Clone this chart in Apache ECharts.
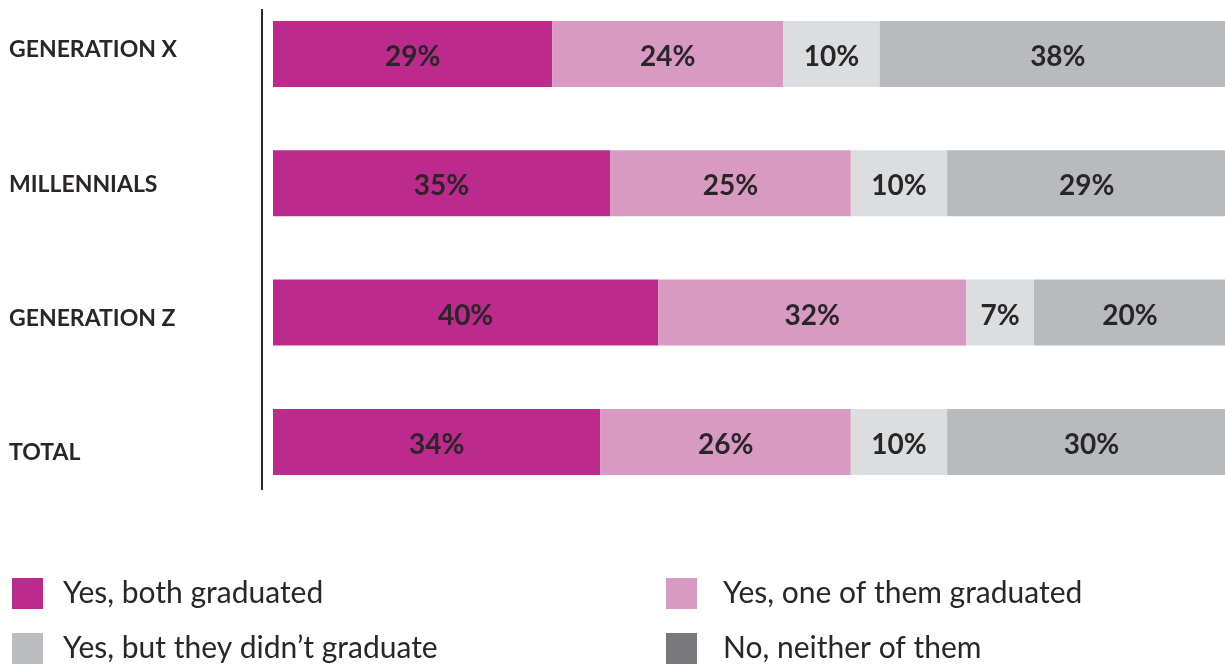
<!DOCTYPE html>
<html>
<head>
<meta charset="utf-8">
<title>Parents' graduation by generation</title>
<script src="https://cdn.jsdelivr.net/npm/echarts@6/dist/echarts.min.js"></script>
<style>
  html, body { margin: 0; padding: 0; background: #ffffff; }
  #chart { width: 1225px; height: 666px; }
</style>
</head>
<body>
<div id="chart"></div>
<script>
// Generations shown top to bottom
const categories = ['GENERATION X', 'MILLENNIALS', 'GENERATION Z', 'TOTAL'];

// Share of respondents (%) per answer
const bothGraduated = [29, 35, 40, 34];
const oneGraduated  = [24, 25, 32, 26];
const didntGraduate = [10, 10, 7, 10];
const neither       = [38, 29, 20, 30];

const seriesNames = [
  'Yes, both graduated',
  'Yes, one of them graduated',
  'Yes, but they didn\u2019t graduate',
  'No, neither of them'
];

const barColors    = ['#BC2A8E', '#D899C2', '#DCDDDF', '#B9BABD'];
const legendColors = ['#BC2A8E', '#D899C2', '#BBBCC0', '#79797D'];

const FONT = 'Lato, "Noto Sans", sans-serif';
const INK = '#2a2628';

const chart = echarts.init(document.getElementById('chart'), null, { renderer: 'canvas' });

const values = [bothGraduated, oneGraduated, didntGraduate, neither];

const series = values.map((data, i) => ({
  name: seriesNames[i],
  type: 'bar',
  stack: 'share',
  xAxisIndex: 0,
  yAxisIndex: 0,
  barWidth: 66,
  data: data,
  itemStyle: { color: barColors[i] },
  label: {
    show: true,
    position: 'inside',
    offset: [0, 3],
    formatter: p => p.value + '%',
    fontFamily: FONT,
    fontSize: 28,
    fontWeight: 'bold',
    color: INK
  },
  emphasis: { disabled: true },
  animation: false
}));

const legendItem = i => ({ name: seriesNames[i], itemStyle: { color: legendColors[i] } });
const legendBase = textGap => ({
  orient: 'vertical',
  icon: 'rect',
  padding: 0,
  height: 200,
  itemWidth: 31,
  itemHeight: 31,
  itemGap: 24,
  selectedMode: false,
  textStyle: {
    fontFamily: FONT,
    fontSize: 30,
    lineHeight: 31,
    color: INK,
    padding: [0, 0, 0, textGap]
  }
});

chart.setOption({
  animation: false,
  backgroundColor: '#ffffff',
  grid: [
    // bars
    { left: 273, top: -10.7, width: 963, height: 517.3, outerBoundsMode: 'none', containLabel: false },
    // category labels
    { left: 262, top: -17.4, width: 1, height: 537.3, outerBoundsMode: 'none', containLabel: false }
  ],
  xAxis: [
    { type: 'value', gridIndex: 0, min: 0, max: 100, show: false },
    { type: 'value', gridIndex: 1, min: 0, max: 1, show: false }
  ],
  yAxis: [
    {
      type: 'category', gridIndex: 0, data: categories, inverse: true,
      axisLine: { show: false }, axisTick: { show: false }, axisLabel: { show: false },
      splitLine: { show: false }
    },
    {
      type: 'category', gridIndex: 1, data: categories, inverse: true,
      axisLine: { show: false }, axisTick: { show: false }, splitLine: { show: false },
      axisLabel: {
        align: 'left',
        margin: 253,
        fontFamily: FONT,
        fontSize: 23,
        fontWeight: 'bold',
        color: INK
      }
    }
  ],
  legend: [
    Object.assign(legendBase(15), { left: 12, top: 578, data: [legendItem(0), legendItem(2)] }),
    Object.assign(legendBase(21), { left: 666, top: 578, data: [legendItem(1), legendItem(3)] })
  ],
  graphic: [
    {
      type: 'line',
      silent: true,
      shape: { x1: 262, y1: 9, x2: 262, y2: 490 },
      style: { stroke: '#2b2b2b', lineWidth: 2 }
    }
  ],
  series: series
});
</script>
</body>
</html>
